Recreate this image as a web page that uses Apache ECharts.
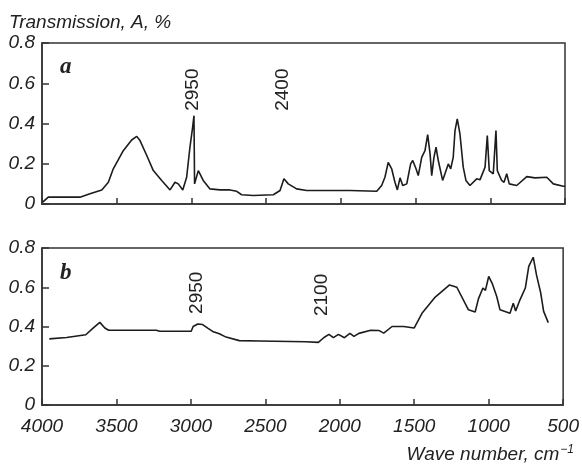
<!DOCTYPE html>
<html>
<head>
<meta charset="utf-8">
<script src="https://cdn.jsdelivr.net/npm/echarts@6/dist/echarts.min.js"></script>
<style>
  html, body { margin: 0; padding: 0; background: #fff; }
  #chart { width: 582px; height: 464px; }
</style>
</head>
<body>
<div id="chart"></div>
<script>
  // panel a
  var waveA = [3995, 3958, 3746, 3679, 3600, 3556, 3523, 3456, 3400, 3366,
    3344, 3299, 3255, 3199, 3143, 3110, 3088, 3058, 3032, 3010,
    2992, 2983, 2979, 2973, 2954, 2921, 2876, 2809, 2742, 2697,
    2664, 2586, 2452, 2407, 2381, 2352, 2296, 2229, 1939, 1760,
    1727, 1705, 1683, 1660, 1638, 1622, 1604, 1586, 1559, 1533,
    1519, 1497, 1482, 1459, 1437, 1419, 1403, 1392, 1377, 1363,
    1348, 1337, 1319, 1296, 1281, 1265, 1248, 1236, 1221, 1203,
    1181, 1163, 1136, 1091, 1069, 1035, 1020, 1007, 980, 962,
    953, 924, 908, 890, 873, 823, 756, 701, 622, 578,
    511, 500]
  var absA = [0.009, 0.034, 0.034, 0.051, 0.070, 0.108, 0.175, 0.265, 0.318, 0.336,
    0.315, 0.241, 0.166, 0.117, 0.070, 0.108, 0.100, 0.070, 0.133, 0.282,
    0.381, 0.439, 0.100, 0.108, 0.166, 0.117, 0.075, 0.070, 0.070, 0.063,
    0.046, 0.042, 0.046, 0.067, 0.125, 0.100, 0.075, 0.067, 0.067, 0.063,
    0.092, 0.133, 0.207, 0.175, 0.108, 0.070, 0.130, 0.092, 0.100, 0.199,
    0.216, 0.175, 0.141, 0.232, 0.265, 0.345, 0.249, 0.141, 0.232, 0.282,
    0.216, 0.224, 0.117, 0.166, 0.199, 0.175, 0.232, 0.365, 0.423, 0.348,
    0.183, 0.117, 0.092, 0.125, 0.120, 0.183, 0.340, 0.166, 0.150, 0.365,
    0.166, 0.117, 0.108, 0.150, 0.100, 0.092, 0.136, 0.130, 0.133, 0.100,
    0.088, 0.088]

  // panel b
  var waveB = [3951, 3835, 3706, 3657, 3612, 3578, 3552, 3232, 3210, 2998,
    2985, 2954, 2921, 2887, 2854, 2809, 2764, 2675, 2541, 2229,
    2144, 2106, 2073, 2043, 2009, 1969, 1932, 1905, 1872, 1792,
    1738, 1705, 1649, 1571, 1501, 1448, 1359, 1263, 1214, 1136,
    1091, 1069, 1039, 1022, 1000, 975, 946, 924, 857, 835,
    819, 790, 754, 731, 701, 679, 651, 631, 600]
  var absB = [0.337, 0.344, 0.358, 0.392, 0.421, 0.392, 0.381, 0.381, 0.376, 0.376,
    0.400, 0.413, 0.410, 0.392, 0.375, 0.363, 0.346, 0.328, 0.326, 0.322,
    0.319, 0.344, 0.360, 0.343, 0.360, 0.343, 0.365, 0.350, 0.365, 0.381,
    0.380, 0.366, 0.400, 0.400, 0.392, 0.467, 0.550, 0.612, 0.600, 0.485,
    0.474, 0.541, 0.596, 0.584, 0.655, 0.617, 0.553, 0.485, 0.468, 0.519,
    0.479, 0.536, 0.596, 0.706, 0.753, 0.663, 0.572, 0.477, 0.420]

  var xTicks = [4000, 3500, 3000, 2500, 2000, 1500, 1000, 500]
  var yTicks = [0, 0.2, 0.4, 0.6, 0.8]

  // peak labels: text, panel, position [wave, abs]
  var peakText = ['2950', '2400', '2950', '2100']
  var peakPanel = [0, 0, 1, 1]
  var peakPos = [[2990, 0.568], [2387, 0.568], [2963, 0.572], [2120, 0.561]]

  var font = 'Liberation Sans, Arial, sans-serif'
  var boxColor = '#333'
  var lineColor = '#1c1c1c'

  function zip(xs, ys) {
    var out = []
    for (var i = 0; i < xs.length; i++) out.push([xs[i], ys[i]])
    return out
  }

  function xAxisFor(idx, showLabel) {
    return {
      type: 'value',
      gridIndex: idx,
      inverse: true,
      min: Math.min.apply(null, xTicks),
      max: Math.max.apply(null, xTicks),
      interval: xTicks[0] - xTicks[1],
      axisLine: { show: true, lineStyle: { color: boxColor, width: 1.5 } },
      axisTick: { show: true, inside: true, length: 6, lineStyle: { color: boxColor, width: 1.5 } },
      splitLine: { show: false },
      axisLabel: {
        show: showLabel,
        margin: 12,
        color: '#222',
        fontSize: 19,
        fontStyle: 'italic',
        fontFamily: font,
        formatter: function (v) {
          return String(v)
        }
      }
    }
  }

  function yAxisFor(idx) {
    return {
      type: 'value',
      gridIndex: idx,
      min: yTicks[0],
      max: yTicks[yTicks.length - 1],
      interval: yTicks[1] - yTicks[0],
      axisLine: { show: true, lineStyle: { color: boxColor, width: 1.5 } },
      axisTick: { show: true, inside: true, length: 7, lineStyle: { color: boxColor, width: 1.5 } },
      splitLine: { show: false },
      axisLabel: {
        margin: 7,
        color: '#222',
        fontSize: 19,
        fontStyle: 'italic',
        fontFamily: font,
        formatter: function (v) {
          return v === 0 ? '0' : v.toFixed(1)
        }
      }
    }
  }

  var chart = echarts.init(document.getElementById('chart'))
  var option = {
    animation: false,
    backgroundColor: '#fff',
    title: [
      {
        text: 'Transmission, A, %',
        left: 9,
        top: 13,
        padding: 0,
        textStyle: { fontSize: 19, fontStyle: 'italic', fontWeight: 'normal', color: '#222', fontFamily: font }
      },
      {
        text: 'Wave number, cm{sup|−1}',
        right: 8,
        top: 444,
        padding: 0,
        textStyle: {
          fontSize: 19, fontStyle: 'italic', fontWeight: 'normal', color: '#222', fontFamily: font,
          rich: {
            sup: { fontSize: 12, fontStyle: 'italic', color: '#222', fontFamily: font, padding: [0, 0, 9, 1] }
          }
        }
      }
    ],
    grid: [
      { left: 42, right: 17, top: 43, height: 161, show: true, borderColor: boxColor, borderWidth: 1.5 },
      { left: 42, right: 17, top: 248, height: 157, show: true, borderColor: boxColor, borderWidth: 1.5 }
    ],
    xAxis: [xAxisFor(0, false), xAxisFor(1, true)],
    yAxis: [yAxisFor(0), yAxisFor(1)],
    series: [
      {
        type: 'line',
        xAxisIndex: 0,
        yAxisIndex: 0,
        showSymbol: false,
        lineStyle: { color: lineColor, width: 1.6 },
        data: zip(waveA, absA)
      },
      {
        type: 'line',
        xAxisIndex: 1,
        yAxisIndex: 1,
        showSymbol: false,
        lineStyle: { color: lineColor, width: 1.6 },
        data: zip(waveB, absB)
      }
    ],
    graphic: [
      {
        type: 'text', left: 60, top: 56,
        style: { text: 'a', font: 'italic bold 23px "Liberation Serif", "DejaVu Serif", serif', fill: '#222' }
      },
      {
        type: 'text', left: 60, top: 262,
        style: { text: 'b', font: 'italic bold 23px "Liberation Serif", "DejaVu Serif", serif', fill: '#222' }
      }
    ]
  }
  chart.setOption(option)

  // vertical peak labels placed through the axes
  var peaks = []
  for (var i = 0; i < peakText.length; i++) {
    var p = chart.convertToPixel({ xAxisIndex: peakPanel[i], yAxisIndex: peakPanel[i] }, peakPos[i])
    peaks.push({
      type: 'text',
      x: p[0],
      y: p[1],
      rotation: Math.PI / 2,
      style: {
        text: peakText[i],
        font: '19px "Liberation Sans", Arial, sans-serif',
        fill: '#222',
        align: 'center',
        verticalAlign: 'middle'
      }
    })
  }
  chart.setOption({ graphic: option.graphic.concat(peaks) })
</script>
</body>
</html>
